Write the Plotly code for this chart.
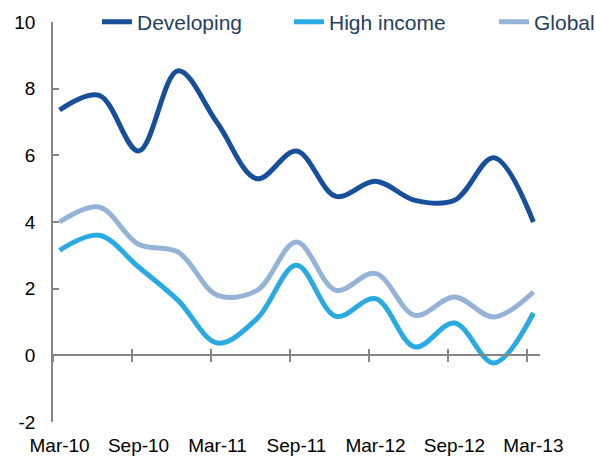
import plotly.graph_objects as go
import pandas as pd

# Monthly category axis (Mar-10 .. Mar-13); data are quarterly
months = pd.date_range("2010-03-01", "2013-03-01", freq="MS").strftime("%b-%y").tolist()
quarters = ["Mar-10", "Jun-10", "Sep-10", "Dec-10", "Mar-11", "Jun-11", "Sep-11",
            "Dec-11", "Mar-12", "Jun-12", "Sep-12", "Dec-12", "Mar-13"]
developing = [7.36, 7.80, 6.13, 8.54, 6.96, 5.30, 6.13, 4.77, 5.22, 4.65, 4.65, 5.93, 4.00]
high_income = [3.15, 3.60, 2.65, 1.65, 0.37, 1.10, 2.70, 1.17, 1.70, 0.25, 0.97, -0.23, 1.27]
global_avg = [4.00, 4.45, 3.33, 3.10, 1.80, 1.95, 3.40, 1.95, 2.46, 1.20, 1.75, 1.15, 1.90]
tick_labels = ["Mar-10", "Sep-10", "Mar-11", "Sep-11", "Mar-12", "Sep-12", "Mar-13"]
y_ticks = [-2, 0, 2, 4, 6, 8, 10]

FONT = "Liberation Sans, Arial, sans-serif"
AXIS_GRAY = "#868686"

fig = go.Figure()
series = [("Developing", developing, "#174F9B", "legend", 0.0903),
          ("High income", high_income, "#29ABE2", "legend2", 0.4846),
          ("Global", global_avg, "#95B3D7", "legend3", 0.9055)]
for name, vals, col, lg, _ in series:
    fig.add_trace(go.Scatter(x=quarters, y=vals, name=name, mode="lines", legend=lg,
                             line=dict(color=col, width=5, shape="spline", smoothing=1.0)))

# empty traces to carry the crossing x-axis at y=0
for ax in ("x2", "x3"):
    fig.add_trace(go.Scatter(x=[], y=[], xaxis=ax, yaxis="y", showlegend=False,
                             hoverinfo="skip"))

n = len(months)
xr = [-0.5, n - 0.5]
boundaries = [months.index(t) - 0.5 for t in tick_labels]
zero_pos = (0 - y_ticks[0]) / (y_ticks[-1] - y_ticks[0])

legend_style = dict(orientation="h", xanchor="left", y=1.0, yanchor="middle",
                    font=dict(size=21, color="#243F60", family=FONT),
                    bgcolor="rgba(0,0,0,0)", itemwidth=30)
legends = {lg: dict(legend_style, x=lx) for _, _, _, lg, lx in series}

fig.update_layout(
    width=596, height=456,
    margin=dict(l=53, r=56, t=22, b=34, autoexpand=False),
    paper_bgcolor="white", plot_bgcolor="white",
    font=dict(family=FONT, color="black"),
    showlegend=True,
    xaxis=dict(type="category", categoryorder="array", categoryarray=months,
               range=xr, tickvals=tick_labels, ticks="", showline=False,
               showgrid=False, zeroline=False, tickfont=dict(size=19, color="black"),
               ticklabelstandoff=10, automargin=False),
    xaxis2=dict(overlaying="x", anchor="free", position=zero_pos, type="linear",
                range=xr, tickvals=boundaries, ticks="outside", ticklen=6,
                tickwidth=1.5, tickcolor=AXIS_GRAY, showline=True, linecolor=AXIS_GRAY,
                linewidth=1.5, showticklabels=False, showgrid=False, zeroline=False),
    xaxis3=dict(overlaying="x", anchor="free", position=zero_pos, type="linear",
                range=xr, tickvals=boundaries, ticks="inside", ticklen=6,
                tickwidth=1.5, tickcolor=AXIS_GRAY, showline=False,
                showticklabels=False, showgrid=False, zeroline=False),
    yaxis=dict(range=[y_ticks[0], y_ticks[-1]], tickvals=y_ticks,
               ticktext=[str(v) for v in y_ticks], ticks="inside",
               ticklen=6, tickwidth=1.5, tickcolor=AXIS_GRAY, showline=True,
               linecolor=AXIS_GRAY, linewidth=1.5, showgrid=False, zeroline=False,
               tickfont=dict(size=19, color="black"), ticklabelstandoff=12,
               automargin=False),
    **legends,
)

fig.write_html("out.html", config={"displayModeBar": False},
               post_script="document.body.style.margin='0';")
